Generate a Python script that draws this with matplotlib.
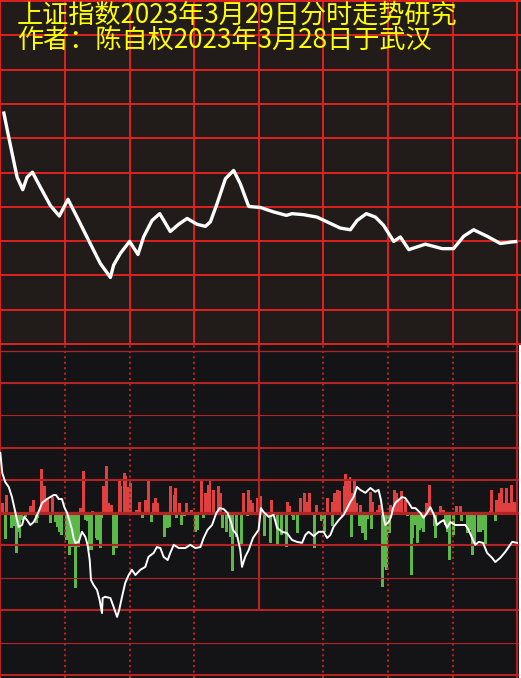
import numpy as np
import matplotlib
matplotlib.use("Agg")
import matplotlib.pyplot as plt

# 分时价格 (上图), x = 分钟 0..240, y = 网格单位 0..10
price_minute = [1.5, 3.9, 7.8, 10.4, 12.4, 14.9, 18.6, 23.2, 27.4, 31.4, 35.6, 41.0, 46.4, 51.1, 52.6,
                55.7, 60.0, 63.9, 66.5, 70.4, 74.0, 78.9, 82.8, 86.7, 91.3, 95.2, 97.5, 100.6, 104.5,
                108.3, 111.4, 115.3, 120.7, 126.9, 132.8, 135.4, 140.8, 147.0, 151.7, 157.8, 162.5,
                165.6, 169.9, 174.1, 177.9, 182.6, 185.7, 189.6, 197.3, 205.1, 210.4, 215.1, 219.7,
                226.0, 232.1, 236.8, 240.0]
price_level = [6.78, 6.03, 4.86, 4.50, 4.86, 5.01, 4.57, 4.04, 3.73, 4.22, 3.70, 3.02, 2.35, 1.94, 2.30,
               2.64, 2.99, 2.61, 3.12, 3.60, 3.80, 3.28, 3.49, 3.66, 3.49, 3.43, 3.56, 4.09, 4.82,
               5.06, 4.67, 4.01, 3.98, 3.85, 3.75, 3.80, 3.77, 3.70, 3.56, 3.38, 3.33,
               3.60, 3.80, 3.70, 3.46, 2.99, 3.12, 2.75, 2.91, 2.78, 2.78, 3.14, 3.33,
               3.14, 2.93, 2.97, 2.99]

# 下图白线
line_minute = [0, 0.9, 2.3, 3.9, 5.4, 6.2, 7.0, 7.8, 8.5, 10.1,
               11.1, 12.4, 13.9, 15.5, 16.7, 18.1, 19.4, 21.7, 24.7, 25.9,
               27.1, 28.6, 29.7, 31.0, 32.0, 33.3, 34.0, 34.8, 36.4, 37.9,
               39.5, 40.5, 41.5, 42.1, 43.3, 44.9, 46.1, 47.2, 47.5, 48.7,
               51.1, 52.6, 54.2, 55.2, 56.5, 58.0, 59.6, 61.1, 62.7, 65.0,
               67.3, 68.8, 71.2, 72.7, 74.3, 75.8, 77.7, 78.9, 80.5, 82.8,
               85.9, 88.2, 90.5, 92.9, 94.4, 96.2, 98.3, 100.3, 101.8, 103.7,
               105.5, 107.1, 108.0, 109.9, 111.4, 112.2, 113.7, 115.3, 117.3, 119.9,
               121.0, 122.2, 124.6, 126.9, 128.5, 130.8, 133.1, 135.4, 137.7, 140.1,
               141.6, 143.1, 145.5, 147.8, 150.1, 151.7, 153.2, 154.7, 157.1, 159.4,
               160.6, 162.5, 164.0, 165.6, 167.1, 169.5, 171.8, 174.1, 175.6, 176.7,
               177.7, 178.7, 180.3, 181.4, 182.3, 183.4, 184.9, 186.5, 188.0, 189.6,
               191.1, 192.7, 195.0, 196.5, 198.1, 199.6, 200.7, 201.9, 202.7, 204.3,
               205.8, 207.4, 208.9, 211.2, 215.9, 217.4, 219.0, 220.5, 222.1, 224.1,
               226.0, 228.3, 229.8, 232.1, 234.4, 236.0, 237.6, 239.9]
line_level = [1.85, 1.23, 0.95, 0.8, 0.49, 0.25, 0, -0.22, -0.43, -0.37,
              -0.12, -0.22, -0.37, -0.28, -0.12, 0.09, 0.31, 0.43, 0.55, 0.55,
              0.43, 0.43, 0.18, 0, -0.22, -0.52, -0.77, -0.92, -0.89, -0.58,
              -0.74, -0.98, -1.45, -2.06, -2.22, -2.37, -2.68, -3.08, -2.62, -2.58,
              -2.62, -2.89, -3.2, -2.98, -2.58, -2.15, -1.91, -1.75, -1.91, -1.75,
              -1.66, -1.35, -1.23, -1.05, -1.08, -1.35, -1.45, -1.23, -0.98, -1.08,
              -1.08, -0.98, -1.08, -1.05, -0.77, -0.52, -0.37, 0, 0.15, 0.12,
              0, -0.28, -0.52, -0.68, -1.14, -1.66, -1.35, -1.14, -0.77, -0.52,
              0.15, 0.03, -0.12, -0.06, -0.46, -0.58, -0.62, -0.83, -0.89, -0.92,
              -0.68, -0.58, -0.71, -0.58, -0.58, -0.77, -0.68, -0.43, -0.22, -0.06,
              0.09, 0.34, 0.49, 0.8, 0.71, 0.62, 0.77, 0.65, 0.71, 0.4,
              -0.06, -0.37, -0.28, -0.12, 0.15, 0.31, 0.4, 0.49, 0.46, 0.31,
              0.15, 0.15, 0, -0.15, 0, 0.18, 0.03, -0.15, -0.37, -0.28,
              -0.22, -0.46, -0.28, -0.37, -0.37, -0.52, -0.77, -0.98, -0.89, -0.92,
              -1.23, -1.38, -1.51, -1.38, -1.2, -1.05, -0.89, -0.92]

# 红柱
red_minute = [0.9, 3.0, 13.9, 15.3, 19.0, 20.4, 21.8, 24.1, 37.1, 38.5,
              42.9, 47.8, 49.4, 50.1, 51.5, 55.2, 55.9, 57.6, 58.3, 59.4,
              60.4, 63.1, 64.5, 67.3, 68.7, 71.0, 72.0, 72.9, 78.9, 80.8,
              81.5, 83.1, 86.4, 88.7, 93.3, 95.2, 96.6, 97.3, 98.9, 101.4,
              102.1, 112.8, 115.1, 116.1, 117.0, 119.3, 120.7, 125.8, 133.2, 134.2,
              139.3, 141.1, 142.1, 143.5, 146.7, 151.8, 154.1, 155.1, 156.5, 157.4,
              159.7, 160.2, 161.6, 162.3, 163.4, 164.3, 165.3, 167.1, 171.8, 172.7,
              175.0, 176.0, 181.3, 182.9, 183.8, 184.8, 186.2, 188.0, 197.8, 199.2,
              204.3, 205.7, 211.7, 213.6, 227.5, 228.0, 230.3, 231.7, 232.6, 233.5,
              234.9, 235.8, 237.2, 238.2, 239.6]
red_value = [0.32, 0.55, 0.2, 0.4, 1.35, 0.83, 0.46, 0.5, 0.15, 1.29,
             0.06, 0.83, 1.45, 0.32, 0.25, 0.98, 0.83, 1.23, 1.14, 0.8,
             0.92, 0.1, 0.35, 0.4, 1.04, 0.32, 0.47, 0.32, 0.83, 0.55,
             0.76, 0.32, 0.32, 0.1, 0.98, 0.6, 0.86, 1.04, 0.71, 0.83,
             0.62, 0.62, 0.71, 0.4, 0.32, 0.45, 0.52, 0.4, 0.35, 0.2,
             0.45, 0.62, 0.35, 0.62, 0.25, 0.45, 0.35, 0.62, 0.71, 0.69,
             0.83, 1.2, 0.98, 1.12, 0.6, 1.04, 0.3, 0.25, 0.66, 0.35,
             0.1, 0.25, 0.25, 0.71, 0.62, 0.4, 0.68, 0.4, 0.32, 0.86,
             0.2, 0.1, 0.2, 0.2, 0.06, 0.71, 0.4, 0.62, 0.78, 0.32,
             0.78, 0.32, 0.86, 0.35, 0.35]

# 绿柱
green_minute = [2.3, 5.1, 6.0, 7.4, 8.4, 9.1, 10.0, 11.6, 16.9, 17.4,
                23.2, 25.5, 26.5, 27.4, 28.3, 30.6, 32.0, 33.4, 34.8, 36.2,
                39.5, 40.4, 41.3, 42.2, 44.6, 45.3, 46.4, 47.1, 52.5, 53.9,
                65.9, 70.1, 76.1, 77.5, 78.5, 81.7, 84.0, 85.4, 90.5, 91.5,
                94.2, 103.1, 104.9, 106.8, 107.7, 109.6, 111.9, 114.7, 122.6, 125.3,
                128.6, 130.5, 132.8, 135.6, 136.0, 137.9, 145.8, 149.0, 150.4, 154.1,
                158.8, 163.0, 166.7, 168.1, 169.5, 170.4, 172.2, 177.3, 178.0, 179.2,
                180.6, 189.0, 190.8, 191.5, 192.7, 193.6, 194.5, 195.9, 196.4, 201.5,
                201.9, 206.6, 207.5, 208.4, 210.3, 214.0, 216.8, 217.7, 219.1, 220.1,
                221.9, 222.8, 224.2, 225.2, 229.8]
green_value = [-0.8, -0.46, -0.4, -1.22, -0.58, -0.77, -0.22, -0.12, -0.31, -0.15,
               -0.31, -0.27, -0.42, -0.58, -0.68, -0.83, -1.29, -1.04, -2.3, -1.04,
               -0.22, -0.25, -1.14, -1.14, -0.77, -0.83, -1.08, -0.15, -1.29, -1.08,
               -0.15, -0.27, -0.73, -0.47, -0.42, -0.15, -0.37, -0.1, -0.58, -0.52,
               -0.15, -0.47, -0.58, -0.73, -1.8, -0.73, -0.98, -0.1, -0.71, -0.93,
               -0.95, -0.68, -1.06, -0.1, -0.22, -0.62, -1.09, -0.25, -0.58, -0.4,
               -0.1, -0.73, -0.4, -0.62, -0.83, -0.2, -0.5, -2.27, -1.65, -1.75,
               -0.62, -0.1, -1.9, -0.77, -0.37, -0.93, -0.52, -0.45, -0.58, -0.4,
               -0.77, -0.37, -0.58, -1.45, -0.68, -0.25, -0.62, -0.52, -1.29, -0.93,
               -0.58, -0.58, -0.52, -0.98, -0.25]

title_1 = "上证指数2023年3月29日分时走势研究"
title_2 = "作者：陈自权2023年3月28日于武汉"

W, H = 521, 678
fig = plt.figure(figsize=(W / 100, H / 100), dpi=100, facecolor="white")

# 上图
ax1 = fig.add_axes([0, 1 - 345 / H, 1, 345 / H])
ax1.set_facecolor("#211c1a")
ax1.set_xlim(-0.15, 241.7)
ax1.set_ylim(-0.03, 10.03)
for v in range(11):
    ax1.axhline(v, color="#e02222", lw=1.4, zorder=1)
for m in range(0, 241, 30):
    ax1.axvline(m, color="#e02222", lw=1.4, zorder=1)
ax1.plot(price_minute, price_level, color="white", lw=2.4, zorder=3,
         solid_joinstyle="round", solid_capstyle="butt")

# 下图
ax2 = fig.add_axes([0, 0, 519 / W, 333 / H])
ax2.set_facecolor("#141417")
ax2.set_xlim(-0.15, 240.8)
ax2.set_ylim(-5.08, 5.17)
ax2.bar(red_minute, red_value, width=1.3, color="#e04040", lw=0,
        antialiased=False, zorder=1)
ax2.bar(green_minute, green_value, width=1.3, color="#5db84a", lw=0,
        antialiased=False, zorder=1)

line_w = {5: 0.9, 4: 1.5, 3: 0.8, 2: 1.5, 1: 1.5, 0: 2.3,
          -1: 1.5, -2: 0.8, -3: 1.5, -4: 0.8, -5: 1.5}
for v, w in line_w.items():
    ax2.axhline(v, color="#b52424", lw=w, zorder=2)
for m in [30, 60, 90, 150, 180, 210]:
    ax2.axvline(m, color="#b52424", lw=1.5, ls=(0, (1, 1.6)), zorder=2)
ax2.axvline(0, color="#b52424", lw=1.5, zorder=2)
ax2.axvline(240, color="#b52424", lw=1.5, zorder=2)
ax2.vlines(120, -3, 5.2, color="#b52424", lw=1.5, zorder=2)
ax2.plot(line_minute, line_level, color="white", lw=1.4, zorder=3)

for ax in (ax1, ax2):
    ax.set_xticks([])
    ax.set_yticks([])
    for s in ax.spines.values():
        s.set_visible(False)

cjk = ["Noto Sans CJK SC", "DejaVu Sans"]
fig.text(17 / W, 1 - 23 / H, title_1, color="#ffff00", fontsize=18.8,
         family=cjk, va="baseline", ha="left")
fig.text(17 / W, 1 - 48 / H, title_2, color="#ffff00", fontsize=18.8,
         family=cjk, va="baseline", ha="left")

fig.savefig("out.png", dpi=100, facecolor="white")
